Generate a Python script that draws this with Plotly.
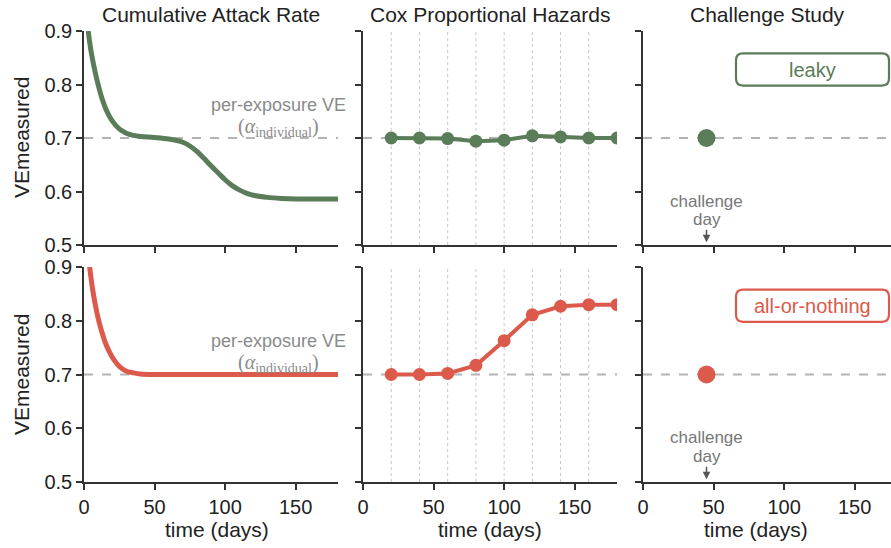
import plotly.graph_objects as go

# ---- data ----
cum_leaky_t = [3, 5, 8, 10, 13, 16, 20, 25, 30, 35, 40, 50, 60, 70, 75, 80, 85, 90,
               95, 100, 105, 110, 115, 120, 130, 140, 150, 165, 180]
cum_leaky_ve = [0.900, 0.862, 0.822, 0.800, 0.772, 0.751, 0.732, 0.717, 0.709, 0.705,
                0.703, 0.701, 0.698, 0.692, 0.685, 0.675, 0.662, 0.648, 0.635, 0.622,
                0.611, 0.603, 0.597, 0.593, 0.589, 0.587, 0.586, 0.586, 0.586]

cum_aon_t = [4, 6, 8, 10, 12, 15, 18, 21, 25, 30, 35, 40, 50, 100, 180]
cum_aon_ve = [0.900, 0.860, 0.830, 0.805, 0.785, 0.760, 0.742, 0.728, 0.715, 0.706,
              0.703, 0.701, 0.700, 0.700, 0.700]

cox_t = [20, 40, 60, 80, 100, 120, 140, 160, 180]
cox_leaky_ve = [0.700, 0.700, 0.699, 0.694, 0.696, 0.704, 0.702, 0.700, 0.700]
cox_aon_ve = [0.700, 0.700, 0.702, 0.717, 0.763, 0.811, 0.827, 0.830, 0.830]

challenge_day = [45]
challenge_leaky_ve = [0.7]
challenge_aon_ve = [0.7]

per_exposure_ve = 0.7
x_ticks = [0, 50, 100, 150]
y_ticks = [0.5, 0.6, 0.7, 0.8, 0.9]

GREEN = "#5a7c58"
RED = "#dc5a4b"
GREY = "#b4b4b4"
FONT = "Liberation Sans, Arial, sans-serif"

W, H = 891, 548


def px(x):
    return x / W


def py(y):
    return 1 - y / H


# ---- layout geometry (paper fractions from window pixels) ----
x_dom = [[px(84), px(338)], [px(363), px(617)], [px(643), 1.0]]
x_rng = [[0, 180], [0, 180], [0, (891 - 643) / ((338 - 84) / 180)]]
y_dom = [[py(245), py(31)], [py(482), py(267)]]

fig = go.Figure()

traces = [
    (1, cum_leaky_t, cum_leaky_ve, GREEN, "lines"),
    (2, cox_t, cox_leaky_ve, GREEN, "lines+markers"),
    (3, challenge_day, challenge_leaky_ve, GREEN, "markers"),
    (4, cum_aon_t, cum_aon_ve, RED, "lines"),
    (5, cox_t, cox_aon_ve, RED, "lines+markers"),
    (6, challenge_day, challenge_aon_ve, RED, "markers"),
]

shapes = []
annotations = []

for i in range(1, 7):
    row = 0 if i <= 3 else 1
    col = (i - 1) % 3
    sx = "" if i == 1 else str(i)
    fig.layout["xaxis" + sx] = dict(
        domain=x_dom[col], range=x_rng[col], anchor="y" + sx,
        showline=True, linecolor="#333", linewidth=1.5, ticks="outside",
        ticklen=6, tickwidth=1.5, tickcolor="#333", tickvals=x_ticks,
        showticklabels=(row == 1), showgrid=False, zeroline=False,
        automargin=False, tickfont=dict(size=20, color="#222"),
    )
    fig.layout["yaxis" + sx] = dict(
        domain=y_dom[row], range=[0.5, 0.9], anchor="x" + sx,
        showline=True, linecolor="#333", linewidth=1.5, ticks="outside",
        ticklen=6, tickwidth=1.5, tickcolor="#333", tickvals=y_ticks,
        tickformat=".1f", showticklabels=(col == 0), showgrid=False,
        zeroline=False, automargin=False, tickfont=dict(size=20, color="#222"),
    )
    # reference line at the per-exposure VE
    shapes.append(dict(type="line", xref="x" + sx + " domain", yref="y" + sx,
                       x0=0, x1=1, y0=per_exposure_ve, y1=per_exposure_ve,
                       line=dict(color=GREY, width=2, dash="dash"), layer="below"))
    if col == 1:
        for t in cox_t[:-1]:
            shapes.append(dict(type="line", xref="x" + sx, yref="y" + sx + " domain",
                               x0=t, x1=t, y0=0, y1=1,
                               line=dict(color="#c8c8c8", width=1, dash="dot"),
                               layer="below"))

for i, xs, ys, color, mode in traces:
    sx = "" if i == 1 else str(i)
    big = mode == "markers"
    fig.add_trace(go.Scatter(
        x=xs, y=ys, mode=mode, xaxis="x" + sx, yaxis="y" + sx,
        line=dict(color=color, width=5 if mode == "lines" else 4,
                  shape="spline" if mode == "lines" else "linear"),
        marker=dict(color=color, size=18 if big else 13),
        showlegend=False, hoverinfo="skip",
    ))

# column titles and x-axis titles
title_x = [211, 490, 767]
xtitle_x = [217, 490, 756]
for col, title in enumerate(["Cumulative Attack Rate", "Cox Proportional Hazards",
                             "Challenge Study"]):
    annotations.append(dict(text=title, xref="paper", yref="paper",
                            x=px(title_x[col]), y=py(14), xanchor="center",
                            yanchor="middle", showarrow=False,
                            font=dict(size=21, color="#222")))
    annotations.append(dict(text="time (days)", xref="paper", yref="paper",
                            x=px(xtitle_x[col]), y=py(529), xanchor="center",
                            yanchor="middle", showarrow=False,
                            font=dict(size=21, color="#222")))

for yc in [138, 375]:
    annotations.append(dict(text="VEmeasured", xref="paper", yref="paper",
                            x=px(21), y=py(yc), xanchor="center", yanchor="middle",
                            textangle=-90, showarrow=False,
                            font=dict(size=21, color="#222")))


def rounded_box(x0, x1, y0, y1, rx, ry):
    return (f"M{x0 + rx},{y0} L{x1 - rx},{y0} Q{x1},{y0} {x1},{y0 + ry} "
            f"L{x1},{y1 - ry} Q{x1},{y1} {x1 - rx},{y1} L{x0 + rx},{y1} "
            f"Q{x0},{y1} {x0},{y1 - ry} L{x0},{y0 + ry} Q{x0},{y0} {x0 + rx},{y0} Z")


px_x = 180 / (338 - 84)
px_y = 0.4 / (245 - 31)

for row, (label, color, sx_cum, sx_ch) in enumerate(
        [("leaky", GREEN, "", "3"), ("all-or-nothing", RED, "4", "6")]):
    # per-exposure VE label
    annotations.append(dict(text="per-exposure VE", xref="x" + sx_cum, yref="y" + sx_cum,
                            x=138, y=0.762, showarrow=False,
                            font=dict(size=18, color="#8a8a8a")))
    annotations.append(dict(text="(<i>α</i><sub>individual</sub>)",
                            xref="x" + sx_cum, yref="y" + sx_cum, x=138, y=0.720,
                            showarrow=False,
                            font=dict(size=20, color="#8a8a8a",
                                      family="Liberation Serif, serif")))
    # challenge day label + arrow
    annotations.append(dict(text="challenge", xref="x" + sx_ch, yref="y" + sx_ch,
                            x=45, y=0.582, showarrow=False,
                            font=dict(size=17, color="#777")))
    annotations.append(dict(text="day", xref="x" + sx_ch, yref="y" + sx_ch,
                            x=45, y=0.548, showarrow=False,
                            font=dict(size=17, color="#777")))
    annotations.append(dict(text="", xref="x" + sx_ch, yref="y" + sx_ch,
                            x=45, y=0.505, ax=0, ay=-14, showarrow=True,
                            arrowhead=2, arrowsize=1, arrowwidth=1.5,
                            arrowcolor="#555"))
    # boxed vaccine type label
    x0, x1 = (736 - 643) * px_x, (889 - 643) * px_x
    y0, y1 = 0.798, 0.858
    shapes.append(dict(type="path", xref="x" + sx_ch, yref="y" + sx_ch,
                       path=rounded_box(x0, x1, y0, y1, 7 * px_x, 7 * px_y),
                       line=dict(color=color, width=2.2), fillcolor="white"))
    annotations.append(dict(text=label, xref="x" + sx_ch, yref="y" + sx_ch,
                            x=(x0 + x1) / 2, y=(y0 + y1) / 2, showarrow=False,
                            font=dict(size=20, color=color)))

fig.update_layout(
    width=W, height=H, autosize=False,
    margin=dict(l=0, r=0, t=0, b=0),
    paper_bgcolor="white", plot_bgcolor="white",
    font=dict(family=FONT, color="#222"),
    shapes=shapes, annotations=annotations,
)

# drop the default page margin so the figure fills the window exactly
fig.write_html("out.html", config={"displayModeBar": False},
               post_script="document.body.style.margin='0';")
